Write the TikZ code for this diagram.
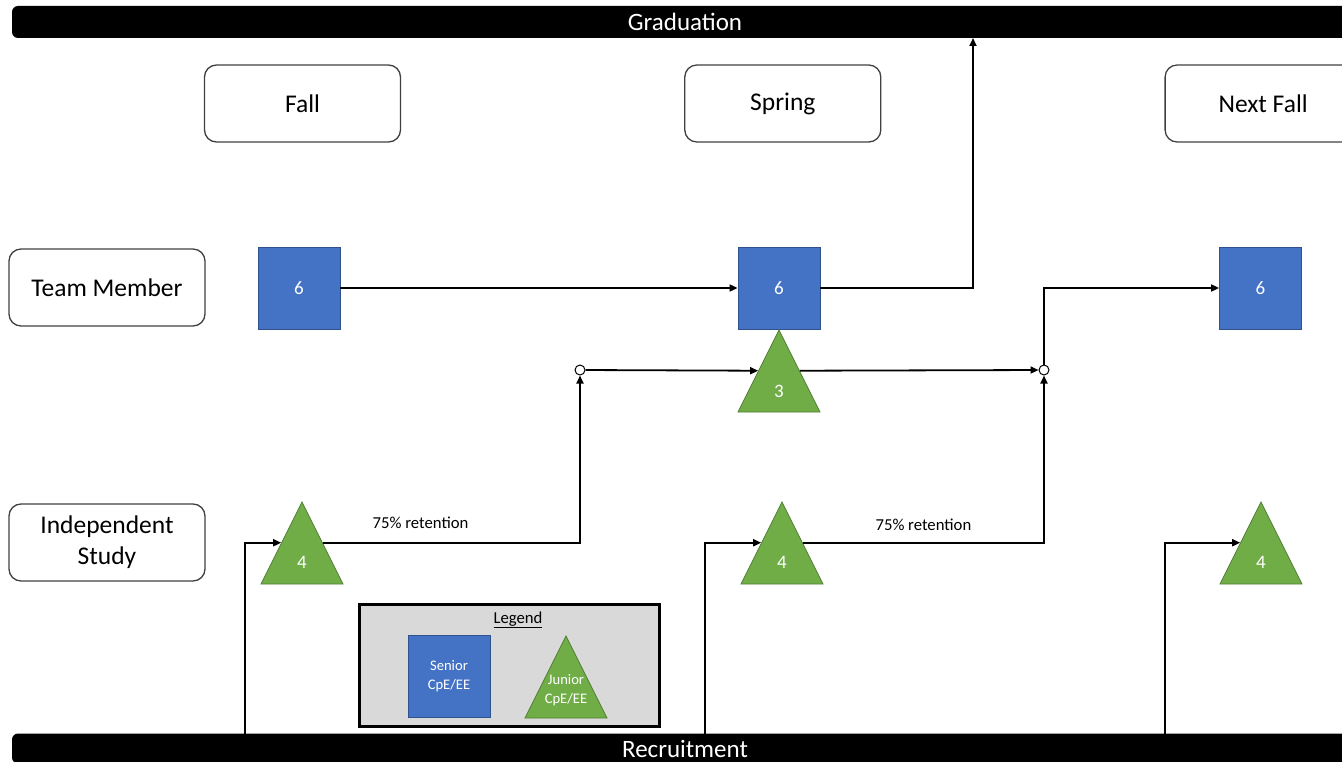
\documentclass[tikz,border=0pt]{standalone}
\usepackage{fontspec}
\setmainfont{Carlito}
\usetikzlibrary{shapes.geometric,arrows.meta,positioning}

\definecolor{seniorblue}{HTML}{4472C4}
\definecolor{seniorline}{HTML}{2F528F}
\definecolor{juniorgreen}{HTML}{70AD47}
\definecolor{juniorline}{HTML}{507E32}
\definecolor{legendgray}{HTML}{D9D9D9}

\begin{document}
\begin{tikzpicture}[x=1pt,y=-1pt,
    every node/.style={inner sep=0pt},
    bar/.style={fill=black, text=white, rounded corners=6pt,
        minimum width=1346pt, minimum height=32pt,
        font=\fontsize{25}{29}\selectfont},
    tag/.style={draw=black!75, line width=1.3pt, rounded corners=12pt,
        minimum width=196pt, minimum height=77pt, align=center,
        font=\fontsize{25.5}{31}\selectfont},
    senior/.style={fill=seniorblue, draw=seniorline, line width=0.8pt,
        minimum size=82pt, text=white, align=center,
        font=\fontsize{19}{22}\selectfont},
    junior/.style={isosceles triangle, isosceles triangle stretches,
        shape border rotate=90, fill=juniorgreen, draw=juniorline,
        line width=0.8pt, minimum width=82pt, minimum height=82pt,
        anchor=apex},
    num/.style={text=white, align=center, font=\fontsize{19}{22}\selectfont},
    joint/.style={circle, draw, fill=white, line width=1pt, minimum size=10pt},
    flow/.style={draw, line width=1.8pt, -{Triangle[length=8pt,width=7pt]}},
    note/.style={font=\fontsize{16.7}{20}\selectfont}]
    \useasboundingbox (0,0) rectangle (1342,762);

    % top and bottom bars
    \node[bar] (grad) at (685,22) {Graduation};
    \node[bar, minimum height=30pt] (recruit) at (685,748.5) {Recruitment};

    % semesters
    \node[tag] (fall) at (302.5,103.5) {Fall};
    \node[tag, right=283pt of fall] (spring) {Spring};
    \node[tag, right=283pt of spring] (nextfall) {Next Fall};

    % roles
    \node[tag] (member) at (107,287.5) {Team Member};
    \node[tag] (study) at (107,542.5) {Independent\\Study};

    % seniors on the team
    \node[senior] (sq1) at (299,288) {6};
    \node[senior] (sq2) at (779,288) {6};
    \node[senior] (sq3) at (1260.5,288) {6};

    % juniors (placed by apex)
    \node[junior] (tri1) at (302,501) {};
    \node[num] (n1) at ([yshift=22pt]tri1.lower side) {4};
    \node[junior] (tri2) at (782,501) {};
    \node[num] (n2) at ([yshift=22pt]tri2.lower side) {4};
    \node[junior] (tri3) at (1261,501) {};
    \node[num] (n3) at ([yshift=22pt]tri3.lower side) {4};
    \node[junior] (tri4) at (779,329) {};
    \node[num] (n4) at ([yshift=21pt]tri4.lower side) {3};

    \node[joint] (j1) at (580,370) {};
    \node[joint] (j2) at (1044,370) {};

    \coordinate (up) at (973,38);
    \coordinate (r1) at (245,735);
    \coordinate (r2) at (705,735);
    \coordinate (r3) at (1165,735);

    % flows
    \draw[flow] (sq1) -- (sq2);
    \draw[flow] (sq2) -| (up);
    \draw[flow] (tri1.right side) -| node[note, pos=0.19, above=13pt] (ret1) {75\% retention} (j1);
    \draw[flow] (j1) -- (tri4.left side);
    \draw[flow] (tri4.right side) -- (j2);
    \draw[flow] (tri2.right side) -| node[note, pos=0.25, above=11pt] (ret2) {75\% retention} (j2);
    \draw[flow] (j2) |- (sq3);
    \draw[flow] (r1) |- (tri1.left side);
    \draw[flow] (r2) |- (tri2.left side);
    \draw[flow] (r3) |- (tri3.left side);

    % legend
    \node[draw, fill=legendgray, line width=2.5pt, minimum width=300pt,
        minimum height=122pt] (legend) at (509.5,665.5) {};
    \node[note] (legtitle) at (518,620) {\underline{Legend}};
    \node[senior, font=\fontsize{14.6}{19}\selectfont] (legsq) at (449,676) {Senior\\CpE/EE};
    \node[junior] (legtri) at (566,635) {};
    \node[num, font=\fontsize{14.6}{19}\selectfont] (legtxt) at (566,690) {Junior\\CpE/EE};
\end{tikzpicture}
\end{document}
